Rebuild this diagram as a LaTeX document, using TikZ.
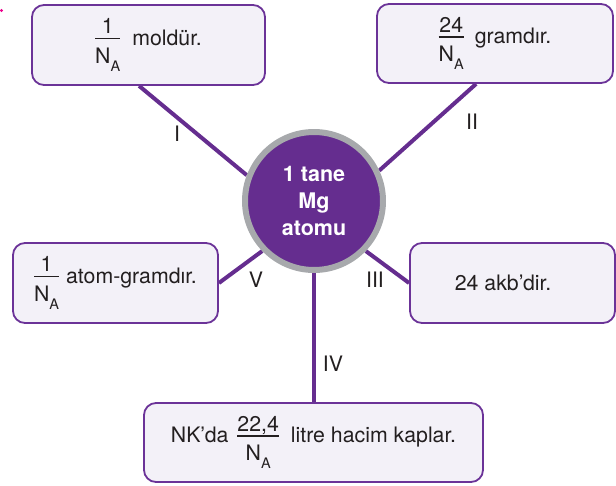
\documentclass[tikz,border=0pt]{standalone}
\usepackage{fontspec}
\setmainfont{TeX Gyre Heros}
\usetikzlibrary{backgrounds}

\definecolor{mgpurple}{HTML}{652D8F}
\definecolor{edgepurple}{HTML}{6B3398}
\definecolor{boxfill}{HTML}{F3F1F8}
\definecolor{ringgray}{HTML}{A7A9AC}
\definecolor{inktext}{HTML}{231F20}
\definecolor{stray}{HTML}{EC008C}

% N with subscript A
\newcommand{\NA}{N\raisebox{-8pt}{\fontsize{14.5}{14.5}\selectfont A}}

% stacked fraction: numerator, bar, denominator
\newsavebox\frnum
\newsavebox\frden
\newlength\frwd
\newcommand{\fr}[2]{\begingroup
  \sbox\frnum{#1}\sbox\frden{#2}%
  \ifdim\wd\frnum>\wd\frden \setlength\frwd{\wd\frnum}\else\setlength\frwd{\wd\frden}\fi
  \rlap{\hbox to\frwd{\hss\raisebox{11.5pt}{\usebox\frnum}\hss}}%
  \rlap{\rule[6pt]{\frwd}{1.4pt}}%
  \hbox to\frwd{\hss\raisebox{-18pt}{\usebox\frden}\hss}%
  \endgroup}

\tikzset{
  infobox/.style={draw=edgepurple, line width=1.8pt, fill=boxfill,
    rounded corners=12pt, inner sep=0pt, text=inktext,
    font=\fontsize{21.3}{25}\selectfont},
  link/.style={draw=mgpurple, line width=4pt},
  numeral/.style={inner sep=0pt, text=inktext, font=\fontsize{21.3}{25}\selectfont}
}

\begin{document}
\begin{tikzpicture}[x=1pt, y=-1pt]
\useasboundingbox (0,0) rectangle (616,485);

% small mark at the top left corner
\fill[stray] (1.5,10.5) circle (1.6);

% central atom
\node[circle, fill=mgpurple, draw=ringgray, line width=6pt,
      minimum size=138pt, inner sep=0pt, text=white, align=center,
      font=\bfseries\fontsize{21.5}{27}\selectfont] (c) at (314,201)
      {1 tane\\Mg\\atomu};

% statement boxes
\node[infobox, minimum width=233pt, minimum height=80pt] (b1) at (148.5,45)
  {\fr{1}{\NA}\hspace{12pt}moldür.};
\node[infobox, minimum width=236pt, minimum height=79pt] (b2) at (495,43.5)
  {\fr{24}{\NA}\hspace{11pt}gramdır.};
\node[infobox, minimum width=205pt, minimum height=80pt] (b3) at (512.5,283)
  {24 akb’dir.\hspace*{19pt}};
\node[infobox, minimum width=339pt, minimum height=79pt] (b4) at (313.5,442.5)
  {NK’da\hspace{9pt}\fr{22,4}{\NA}\hspace{12pt}litre hacim kaplar.};
\node[infobox, minimum width=205pt, minimum height=80pt] (b5) at (115.5,283)
  {\fr{1}{\NA}\hspace{7pt}atom-gramdır.};

% connectors
\begin{scope}[on background layer]
  \draw[link] (c.159) -- ([xshift=108pt]b1.south west);
  \draw[link] (c.25)  -- ([xshift=100pt]b2.south west);
  \draw[link] (c.-44) -- (b3.west);
  \draw[link] (c.south) -- (b4.north -| c.south);
  \draw[link] (c.224) -- (b5.east);
\end{scope}

% connector numerals
\node[numeral] (n1) at (177,134) {I};
\node[numeral] (n2) at (472,122) {II};
\node[numeral] (n3) at (375,280) {III};
\node[numeral] (n4) at (333,364) {IV};
\node[numeral] (n5) at (256,280) {V};
\end{tikzpicture}
\end{document}
